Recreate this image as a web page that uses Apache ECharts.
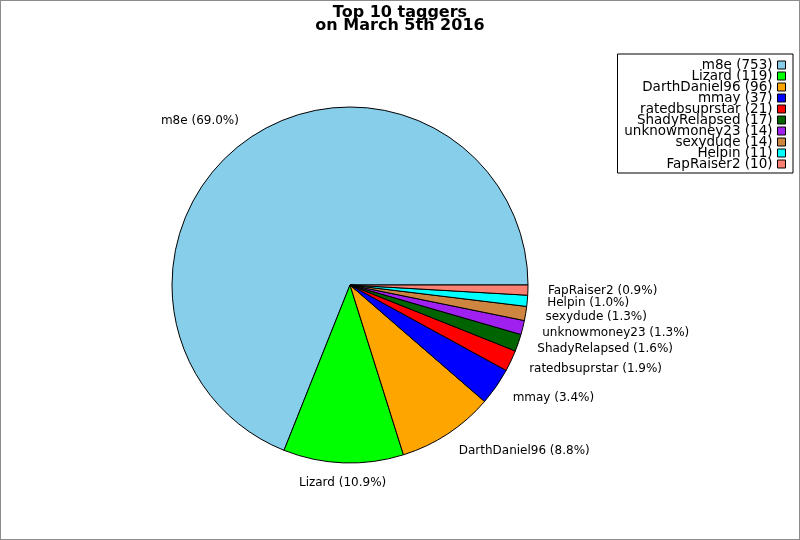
<!DOCTYPE html>
<html>
<head>
<meta charset="utf-8">
<script src="https://cdn.jsdelivr.net/npm/echarts@6/dist/echarts.min.js"></script>
<style>
  html, body { margin: 0; padding: 0; background: #fff; }
  #chart { width: 798px; height: 538px; border: 1px solid #8c8c8c; }
</style>
</head>
<body>
<div id="chart"></div>
<script>
(function() {
  'use strict';

  var FONT = 'DejaVu Sans';

  var taggers = ['m8e', 'Lizard', 'DarthDaniel96', 'mmay', 'ratedbsuprstar', 'ShadyRelapsed', 'unknowmoney23', 'sexydude', 'Helpin', 'FapRaiser2'];
  var counts = [753, 119, 96, 37, 21, 17, 14, 14, 11, 10];
  var colors = ['#87ceeb', '#00ff00', '#ffa500', '#0000ff', '#ff0000', '#006400', '#a020f0', '#cd853f', '#00ffff', '#fa8072'];

  var total = counts.reduce(function(a, b) { return a + b; }, 0);

  var pieData = taggers.map(function(name, i) {
    return { name: name, value: counts[i], itemStyle: { color: colors[i] } };
  });

  var chart = echarts.init(document.getElementById('chart'), null, { renderer: 'canvas' });

  chart.setOption({
    animation: false,
    title: {
      text: 'Top 10 taggers\non March 5th 2016',
      left: 'center',
      top: 0,
      textStyle: { fontFamily: FONT, fontSize: 16, fontWeight: 'bold', lineHeight: 13, color: '#000' }
    },
    legend: {
      orient: 'vertical',
      right: 6,
      top: 53,
      align: 'right',
      icon: 'rect',
      itemWidth: 8,
      itemHeight: 8,
      itemGap: -3,
      padding: [4, 7, 2, 5],
      borderColor: '#000',
      borderWidth: 1,
      backgroundColor: '#fff',
      itemStyle: { borderColor: '#000', borderWidth: 1 },
      textStyle: { fontFamily: FONT, fontSize: 13.5, lineHeight: 11, width: 150, color: '#000' },
      formatter: function(name) {
        return name + ' (' + counts[taggers.indexOf(name)] + ')';
      },
      data: taggers
    },
    series: [{
      type: 'pie',
      center: [349, 284],
      radius: 178,
      startAngle: 0,
      clockwise: false,
      avoidLabelOverlap: false,
      silent: true,
      data: pieData,
      itemStyle: { borderColor: '#000', borderWidth: 1 },
      label: {
        show: true,
        position: 'outside',
        distanceToLabelLine: 0,
        fontFamily: FONT,
        fontSize: 12,
        color: '#000',
        formatter: function(p) {
          return p.name + ' (' + (p.value / total * 100).toFixed(1) + '%)';
        }
      },
      labelLine: { show: false, length: 20, length2: 0 },
      labelLayout: function(params) {
        // label nearly straight below the centre is centred
        if (params.dataIndex === 1) {
          return { x: params.labelRect.x + params.labelRect.width, align: 'center' };
        }
        return {};
      }
    }]
  });
})();
</script>
</body>
</html>
